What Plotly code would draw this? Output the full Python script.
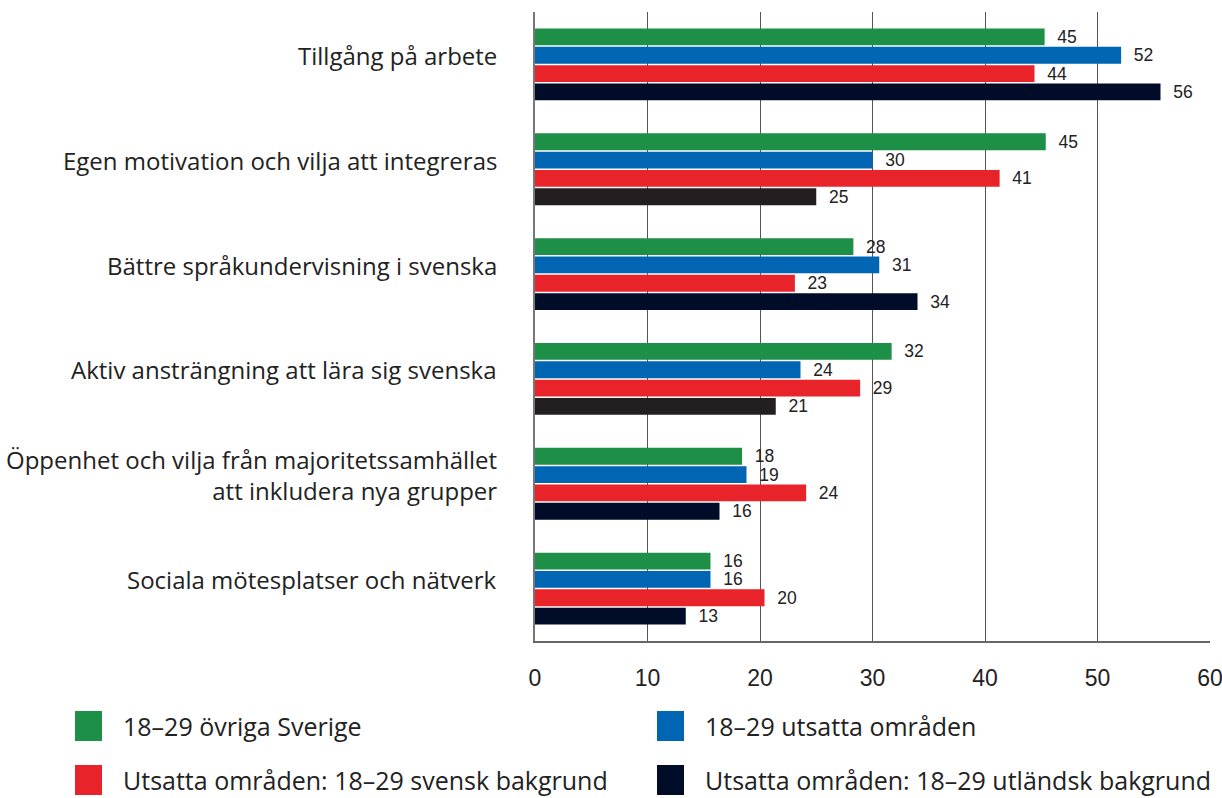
import plotly.graph_objects as go

categories = [
    "Tillgång på arbete",
    "Egen motivation och vilja att integreras",
    "Bättre språkundervisning i svenska",
    "Aktiv ansträngning att lära sig svenska",
    "Öppenhet och vilja från majoritetssamhället<br>att inkludera nya grupper",
    "Sociala mötesplatser och nätverk",
]
series_names = [
    "18–29 övriga Sverige",
    "18–29 utsatta områden",
    "Utsatta områden: 18–29 svensk bakgrund",
    "Utsatta områden: 18–29 utländsk bakgrund",
]
green_vals = [45.3, 45.4, 28.3, 31.7, 18.4, 15.6]
blue_vals = [52.1, 30.0, 30.6, 23.6, 18.8, 15.6]
red_vals = [44.4, 41.3, 23.1, 28.9, 24.1, 20.4]
dark_vals = [55.6, 25.0, 34.0, 21.4, 16.4, 13.4]
x_ticks = [0, 10, 20, 30, 40, 50, 60]

green = "#1e8f46"
blue = "#0066b3"
red = "#e8232a"
navy = "#000c28"
gray = "#231f20"
dark_colors = [navy, gray, navy, gray, navy, navy]

FONT = "Open Sans, Liberation Sans, Arial, sans-serif"
TICKFONT = "Liberation Sans, Arial, sans-serif"

fig = go.Figure()
for name, vals, col in [
    (series_names[0], green_vals, green),
    (series_names[1], blue_vals, blue),
    (series_names[2], red_vals, red),
    (series_names[3], dark_vals, dark_colors),
]:
    fig.add_trace(go.Bar(
        y=categories, x=vals, name=name, orientation="h",
        marker=dict(color=col, line=dict(width=0)),
        texttemplate="  %{x:.0f}", textposition="outside", constraintext="none",
        textfont=dict(size=17.5, color="#222", family=TICKFONT),
        cliponaxis=False, showlegend=False, hoverinfo="skip",
    ))

fig.update_layout(
    width=1222, height=798,
    margin=dict(l=535, r=12, t=12, b=157, autoexpand=False),
    paper_bgcolor="white", plot_bgcolor="white",
    barmode="group", bargap=0.3, bargroupgap=0.08,
    font=dict(family=FONT, color="#222"),
    xaxis=dict(
        range=[0, 60], tickvals=x_ticks, showgrid=True, gridcolor="#555", gridwidth=1,
        showline=True, linecolor="#666", linewidth=1.5, zeroline=False, automargin=False,
        tickfont=dict(size=23, color="#222", family=TICKFONT), ticks="", ticklabelstandoff=16,
        ticklabeloverflow="allow",
    ),
    yaxis=dict(
        autorange="reversed", showline=True, linecolor="#777", linewidth=2, automargin=False,
        showticklabels=False, ticks="",
    ),
)

# category labels, placed slightly above the centre of each bar group as in the reference
for cat in categories:
    fig.add_annotation(xref="paper", yref="y", x=0, y=cat, text=cat,
                       showarrow=False, xanchor="right", yanchor="middle", align="right",
                       xshift=-36, yshift=9,
                       font=dict(size=24, color="#222", family=FONT))

# manual legend (larger swatches as in the reference)
legend_pos = [(75, 726), (657, 726), (75, 780), (657, 780)]
legend_cols = [green, blue, red, navy]
for (px, py), name, col in zip(legend_pos, series_names, legend_cols):
    fig.add_shape(type="rect", xref="paper", yref="paper",
                  x0=(px - 535) / 675, x1=(px + 27 - 535) / 675,
                  y0=(641 - (py + 15)) / 629, y1=(641 - (py - 15)) / 629,
                  fillcolor=col, line=dict(width=0))
    fig.add_annotation(xref="paper", yref="paper",
                       x=(px + 46 - 535) / 675, y=(641 - py) / 629,
                       text=name, showarrow=False, xanchor="left", yanchor="middle",
                       font=dict(size=25, color="#222", family=FONT))

fig.write_html(
    "out.html",
    config={"displayModeBar": False},
    post_script="document.body.style.margin='0';document.body.style.overflow='hidden';",
)
